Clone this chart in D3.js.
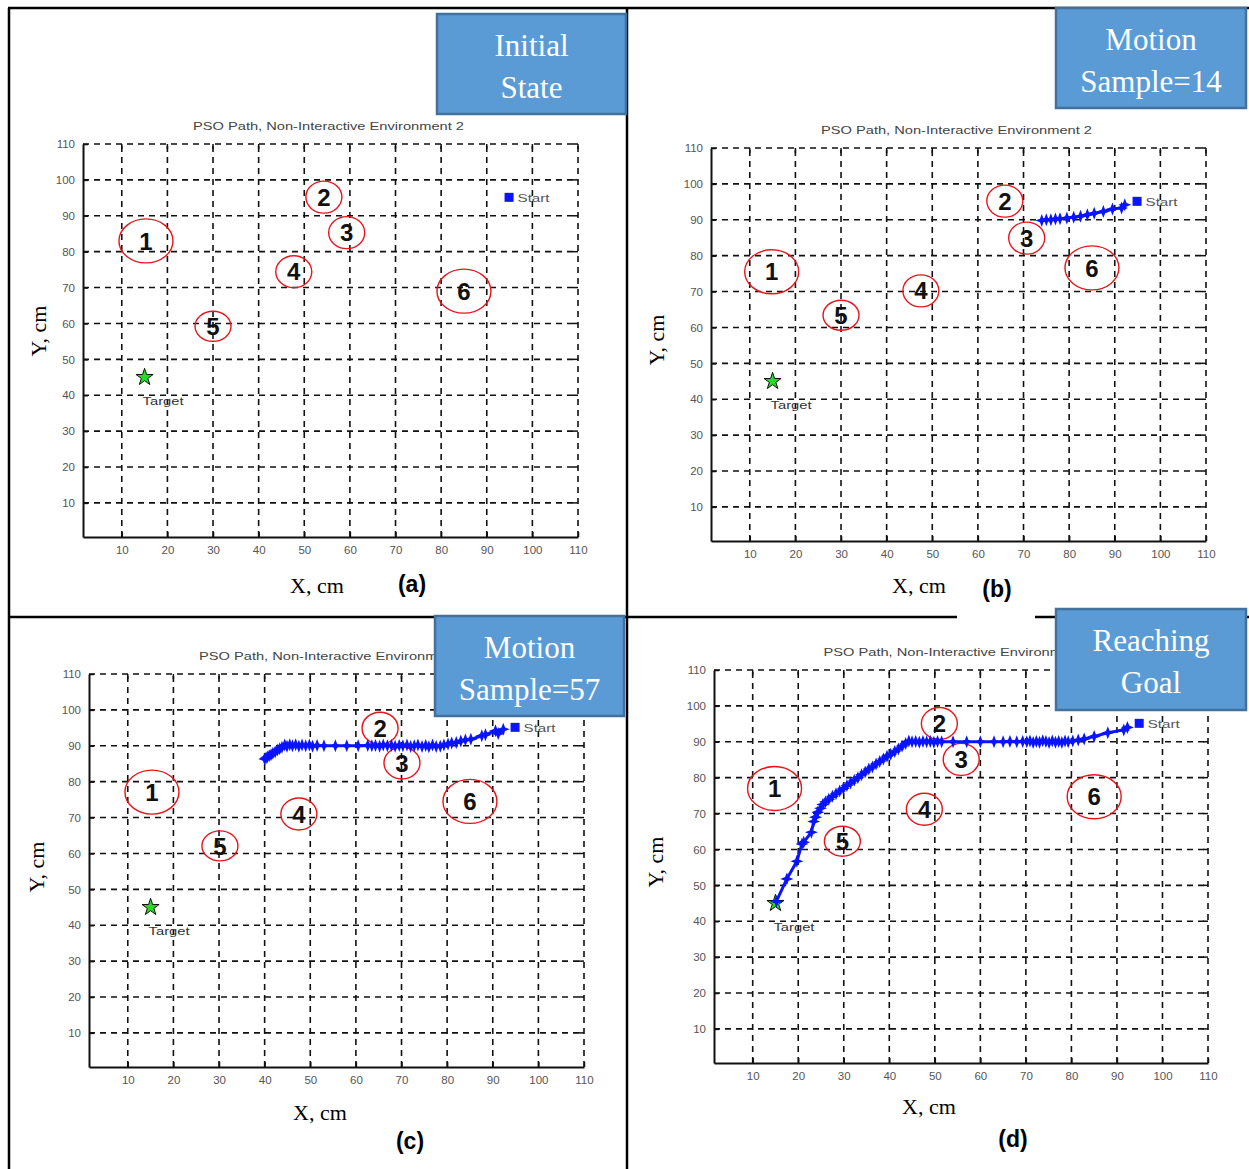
<!DOCTYPE html>
<html>
<head>
<meta charset="utf-8">
<script src="https://cdn.jsdelivr.net/npm/d3@7"></script>
<style>
    body { margin: 0; background: #fff; }
</style>
</head>
<body>
<svg id="fig" width="1249" height="1169"></svg>
<script>
// ---------------------------------------------------------------------------
// Data (in cm)
// ---------------------------------------------------------------------------
const xTicks = [10, 20, 30, 40, 50, 60, 70, 80, 90, 100, 110];
const yTicks = [10, 20, 30, 40, 50, 60, 70, 80, 90, 100, 110];
const chartTitle = "PSO Path, Non-Interactive Environment 2";
const startPoint = [95, 95];
const targetPoint = [15, 45];

// obstacle markers: [id, x, y]
const obstaclesA = [[1, 15.3, 83], [2, 54.3, 95.2], [3, 59.3, 85.3], [4, 47.7, 74.4], [5, 30, 59.2], [6, 85, 69]];
const obstaclesB = [[1, 14.8, 75.5], [2, 65.9, 95.2], [3, 70.7, 84.9], [4, 47.5, 70.2], [5, 30, 63.4], [6, 85, 76.6]];
const obstaclesC = [[1, 15.3, 77.1], [2, 65.3, 94.9], [3, 70.1, 85.2], [4, 47.5, 71], [5, 30.2, 62.1], [6, 85, 74.5]];
const obstaclesD = [[1, 14.8, 77], [2, 51, 95.1], [3, 55.8, 85.1], [4, 47.7, 71.2], [5, 29.7, 62.3], [6, 85, 74.7]];

// robot path samples: [x, y]
const pathA = [];
const pathB = [
    [92.2, 94.2], [91.5, 93.3], [89.5, 93], [87.5, 92.3], [85.5, 91.8], [84, 91.4], [82.5, 91],
    [81, 90.7], [79.5, 90.5], [78, 90.3], [77, 90.2], [76, 90], [75, 90], [74, 89.8]
];
const pathC = [
    [92.3, 94.6], [91.2, 93.4], [90.6, 94.2], [88.4, 93.1], [87.6, 92.8], [85.2, 91.8], [84, 91.6],
    [83, 91.3], [82, 90.9], [81, 90.8], [80.2, 90.5], [79.3, 90.2], [78.5, 89.9], [77.6, 89.8],
    [76.8, 90.2], [76, 89.7], [75.3, 90.1], [74.5, 89.8], [73.6, 90.2], [72.8, 90], [72, 89.8],
    [71.2, 90.2], [70.3, 90], [69.5, 90.1], [68.6, 89.9], [67.8, 90.1], [66.9, 90], [66, 90.2],
    [65.2, 89.9], [64.3, 90.1], [63.5, 90], [62.6, 90.1], [60.5, 90], [58, 90], [55.5, 90],
    [53, 90], [51.5, 90.1], [50.5, 89.9], [49.8, 90.2], [49, 90], [48.2, 90.2], [47.5, 89.9],
    [46.8, 90.3], [46.1, 90], [45.5, 90.3], [44.9, 89.9], [44.4, 90.2], [43.8, 89.6], [43.3, 89.2],
    [42.8, 88.8], [42.3, 88.3], [41.8, 87.9], [41.4, 87.5], [41, 87.2], [40.6, 86.9], [40.3, 86.6],
    [40, 86.3]
];
const pathD = [
    [92.3, 94], [91.5, 93.3], [88, 92.5], [85, 91.5], [82.8, 90.8], [81.5, 90.5], [80.3, 90.2],
    [79.3, 90], [78.6, 90.2], [77.9, 89.8], [77.2, 90.1], [76.5, 89.9], [75.8, 90.2], [75.1, 89.8],
    [74.4, 90.1], [73.7, 90.3], [73, 89.9], [72.3, 90.1], [71.6, 89.8], [70.9, 90.2], [70.2, 90],
    [69.3, 90.1], [68, 90], [66.5, 90.1], [65, 90], [63, 90], [60, 90], [57, 90], [54, 90],
    [51.5, 90], [50.6, 90.1], [49.8, 89.9], [49, 90.1], [48.2, 90], [47.4, 90.1], [46.6, 89.9],
    [45.8, 90.1], [45, 90], [44.3, 90.2], [43.6, 89.5], [42.8, 88.8], [42, 88], [41.2, 87.3],
    [40.3, 86.5], [39.5, 86], [38.7, 85.2], [37.9, 84.5], [37.1, 83.8], [36.3, 83], [35.5, 82.4],
    [34.7, 81.6], [33.9, 80.8], [33.1, 80], [32.3, 79.3], [31.5, 78.5], [30.7, 77.8], [29.9, 77],
    [29.1, 76.3], [28.3, 75.5], [27.5, 74.8], [26.7, 74], [26, 73.3], [25.4, 72.5], [24.9, 71.5],
    [24.3, 70.4], [23.8, 69], [23.4, 67.8], [22.9, 64.8], [21.2, 62], [20.8, 61.5], [19.7, 56.7],
    [17.5, 51.8], [15.2, 45.5]
];

const boxLinesA = ["Initial", "State"];
const boxLinesB = ["Motion", "Sample=14"];
const boxLinesC = ["Motion", "Sample=57"];
const boxLinesD = ["Reaching", "Goal"];

// ---------------------------------------------------------------------------
// Layout
// ---------------------------------------------------------------------------
const panels = [
    { tag: "(a)", obstacles: obstaclesA, path: pathA, box: boxLinesA,
      plot: { x0: 83, x1: 578, y0: 144, y1: 537 },
      xLabel: [317, 585], yLabel: [38, 331], sub: [412, 584], boxRect: [437, 14, 189, 100] },
    { tag: "(b)", obstacles: obstaclesB, path: pathB, box: boxLinesB,
      plot: { x0: 711, x1: 1206, y0: 148, y1: 541 },
      xLabel: [919, 585], yLabel: [656, 340], sub: [997, 589], boxRect: [1056, 8, 190, 100] },
    { tag: "(c)", obstacles: obstaclesC, path: pathC, box: boxLinesC,
      plot: { x0: 89, x1: 584, y0: 674, y1: 1067 },
      xLabel: [320, 1112], yLabel: [36, 867], sub: [410, 1141], boxRect: [435, 616, 189, 100] },
    { tag: "(d)", obstacles: obstaclesD, path: pathD, box: boxLinesD,
      plot: { x0: 714, x1: 1208, y0: 670, y1: 1063 },
      xLabel: [929, 1106], yLabel: [655, 862], sub: [1013, 1139], boxRect: [1056, 609, 190, 101] }
];

const ELLIPSE_R = { 1: [27, 22], 6: [27, 22], 2: [18, 16], 3: [18, 16], 4: [18, 16], 5: [18, 15] };
const SANS = "'Liberation Sans', Arial, sans-serif";
const SERIF = "'Liberation Serif', 'Times New Roman', serif";
const BOLD = "'Liberation Sans', Arial, sans-serif";
const BLUE = "#0a14ff";

const svg = d3.select("#fig");

const Figure = {
    drawPanel(p) {
        const x = d3.scaleLinear().domain([1.5, 110]).range([p.plot.x0, p.plot.x1]);
        const y = d3.scaleLinear().domain([0.5, 110]).range([p.plot.y1, p.plot.y0]);
        const g = svg.append("g");

        // Grid (dashed)
        g.selectAll(".gx").data(xTicks).enter().append("line")
            .attr("x1", d => x(d)).attr("x2", d => x(d))
            .attr("y1", p.plot.y1).attr("y2", p.plot.y0)
            .attr("stroke", "#111").attr("stroke-width", 1.6)
            .attr("stroke-dasharray", "6,5");
        g.selectAll(".gy").data(yTicks).enter().append("line")
            .attr("x1", p.plot.x0).attr("x2", p.plot.x1)
            .attr("y1", d => y(d)).attr("y2", d => y(d))
            .attr("stroke", "#111").attr("stroke-width", 1.6)
            .attr("stroke-dasharray", "6,5");

        // Axes with inward ticks
        const bottom = g.append("g")
            .attr("transform", `translate(0,${p.plot.y1})`)
            .call(d3.axisBottom(x).tickValues(xTicks).tickSize(-5).tickPadding(9).tickSizeOuter(0));
        const left = g.append("g")
            .attr("transform", `translate(${p.plot.x0},0)`)
            .call(d3.axisLeft(y).tickValues(yTicks).tickSize(-5).tickPadding(8).tickSizeOuter(0));
        [bottom, left].forEach(a => {
            a.select(".domain").attr("stroke", "#111").attr("stroke-width", 2);
            a.selectAll(".tick line").attr("stroke", "#111").attr("stroke-width", 1.5);
            a.selectAll("text").style("font-family", SANS).style("font-size", "11.5px")
                .style("fill", "#555");
        });
        // top / right ticks
        g.selectAll(".tt").data(xTicks).enter().append("line")
            .attr("x1", d => x(d)).attr("x2", d => x(d))
            .attr("y1", p.plot.y0).attr("y2", p.plot.y0 + 5)
            .attr("stroke", "#111").attr("stroke-width", 1.5);
        g.selectAll(".tr").data(yTicks).enter().append("line")
            .attr("x1", p.plot.x1 - 5).attr("x2", p.plot.x1)
            .attr("y1", d => y(d)).attr("y2", d => y(d))
            .attr("stroke", "#111").attr("stroke-width", 1.5);

        // Title
        g.append("text")
            .attr("x", (p.plot.x0 + p.plot.x1) / 2 - 2)
            .attr("y", p.plot.y0 - 14)
            .attr("text-anchor", "middle")
            .attr("textLength", 271).attr("lengthAdjust", "spacingAndGlyphs")
            .style("font-family", SANS).style("font-size", "11px").style("fill", "#444")
            .text(chartTitle);

        // Obstacles
        const obs = g.selectAll(".obs").data(p.obstacles).enter().append("g")
            .attr("transform", d => `translate(${x(d[1])},${y(d[2])})`);
        obs.append("ellipse")
            .attr("rx", d => ELLIPSE_R[d[0]][0]).attr("ry", d => ELLIPSE_R[d[0]][1])
            .attr("fill", "none").attr("stroke", "#e8141b").attr("stroke-width", 1.4);
        obs.append("text")
            .attr("text-anchor", "middle").attr("dy", "0.36em")
            .style("font-family", BOLD).style("font-weight", "700").style("font-size", "24px")
            .style("fill", "#111")
            .text(d => d[0]);

        // Path
        if (p.path.length) {
            const line = d3.line().x(d => x(d[0])).y(d => y(d[1]));
            g.append("path").datum(p.path)
                .attr("d", line).attr("fill", "none")
                .attr("stroke", BLUE).attr("stroke-width", 3);
        }

        // Target star
        g.append("path")
            .attr("transform", `translate(${x(targetPoint[0])},${y(targetPoint[1])})`)
            .attr("d", d3.symbol(d3.symbolStar, 90)())
            .attr("fill", "#1ee01e").attr("stroke", "#111").attr("stroke-width", 1);
        g.append("text")
            .attr("x", x(targetPoint[0]) - 2).attr("y", y(targetPoint[1]) + 28)
            .attr("textLength", 41).attr("lengthAdjust", "spacingAndGlyphs")
            .style("font-family", SANS).style("font-size", "11px").style("fill", "#333")
            .text("Target");

        // Path markers
        const mark = "M0,-6.5L1.8,-1.8L6.5,0L1.8,1.8L0,6.5L-1.8,1.8L-6.5,0L-1.8,-1.8Z";
        g.selectAll(".pm").data(p.path).enter().append("path")
            .attr("transform", d => `translate(${x(d[0])},${y(d[1])})`)
            .attr("d", mark).attr("fill", BLUE);

        // Start marker + label
        g.append("rect")
            .attr("x", x(startPoint[0]) - 5).attr("y", y(startPoint[1]) - 5)
            .attr("width", 9).attr("height", 9).attr("fill", BLUE);
        g.append("text")
            .attr("x", x(startPoint[0]) + 8).attr("y", y(startPoint[1]) + 4)
            .attr("textLength", 32).attr("lengthAdjust", "spacingAndGlyphs")
            .style("font-family", SANS).style("font-size", "11px").style("fill", "#555")
            .text("Start");

        // Axis labels
        g.append("text")
            .attr("x", p.xLabel[0]).attr("y", p.xLabel[1]).attr("dy", "0.35em")
            .attr("text-anchor", "middle")
            .style("font-family", SERIF).style("font-size", "22px").style("fill", "#000")
            .text("X, cm");
        g.append("text")
            .attr("transform", `translate(${p.yLabel[0]},${p.yLabel[1]}) rotate(-90)`)
            .attr("dy", "0.35em").attr("text-anchor", "middle")
            .style("font-family", SERIF).style("font-size", "22px").style("fill", "#000")
            .text("Y, cm");
        g.append("text")
            .attr("x", p.sub[0]).attr("y", p.sub[1]).attr("dy", "0.35em")
            .attr("text-anchor", "middle")
            .style("font-family", BOLD).style("font-weight", "700").style("font-size", "23px")
            .style("fill", "#000")
            .text(p.tag);
    },

    drawBox(p) {
        const [bx, by, bw, bh] = p.boxRect;
        svg.append("rect")
            .attr("x", bx).attr("y", by).attr("width", bw).attr("height", bh)
            .attr("fill", "#5b9bd5").attr("stroke", "#41719c").attr("stroke-width", 2.5);
        svg.selectAll(null).data(p.box).enter().append("text")
            .attr("x", bx + bw / 2).attr("y", (d, i) => by + 42 + i * 42)
            .attr("text-anchor", "middle")
            .style("font-family", SERIF).style("font-size", "31px").style("fill", "#fff")
            .text(d => d);
    },

    drawFrame() {
        const seg = [
            [8, 8, 1249, 8], [9, 8, 9, 1169], [627, 8, 627, 1169],
            [8, 617, 627, 617], [627, 617, 957, 617], [1035, 617, 1249, 617]
        ];
        svg.selectAll(".frame").data(seg).enter().append("line")
            .attr("x1", d => d[0]).attr("y1", d => d[1])
            .attr("x2", d => d[2]).attr("y2", d => d[3])
            .attr("stroke", "#000").attr("stroke-width", 2.5);
    }
};

panels.forEach(p => Figure.drawPanel(p));
Figure.drawFrame();
panels.forEach(p => Figure.drawBox(p));
</script>
</body>
</html>
